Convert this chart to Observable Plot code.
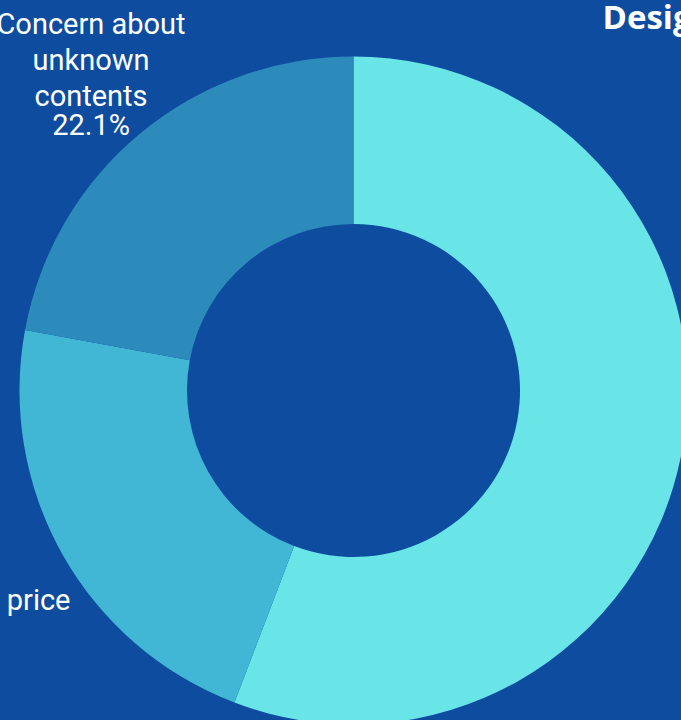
<!DOCTYPE html>
<html><head><meta charset="utf-8">
<script src="https://cdn.jsdelivr.net/npm/d3@7"></script>
<script src="https://cdn.jsdelivr.net/npm/@observablehq/plot@0.6"></script>
<style>
html,body{margin:0;padding:0;background:#0e4ca0;overflow:hidden}
#chart{position:relative;width:681px;height:720px;overflow:hidden}
#chart svg{display:block}
</style></head><body><div id="chart"></div>
<script>
// ---- data ----
const categories = ["Attractive design", "Unwilling to pay a higher price", "Concern about unknown contents"];
const shares = [55.8, 22.1, 22.1];
const sliceColors = ["#6ae5e7", "#41b6d5", "#2d8bbb"];
const labelLines = [["Attractive", "design"], ["Unwilling to pay a higher price"], ["Concern about", "unknown", "contents"]];
const title = "Design preferences";

// ---- layout ----
const W = 681, H = 720;
const cx = 353.5, cy = 390.5, rOuter = 334, rInner = 166.5, rLabel = 411;
const lineGap = 36, pctGap = 29;
const labelFont = "Roboto", labelSize = 29;
// label 1 sits beside the donut with its first line ending at a given right edge
const labelOverride = {1: {right: 70, y: 614.5}};

const ctx = document.createElement("canvas").getContext("2d");
ctx.font = `${labelSize}px ${labelFont}`;

const rows = categories.map((c, i) => ({category: c, share: shares[i]}));
const color = Plot.scale({color: {domain: categories, range: sliceColors}});
const pieData = d3.pie().sort(null).value(d => d.share)(rows);

// label lines
const textRows = [];
pieData.forEach((p, i) => {
  const a = (p.startAngle + p.endAngle) / 2;
  const lines = labelLines[i];
  let ax = cx + rLabel * Math.sin(a), ay = cy - rLabel * Math.cos(a);
  const o = labelOverride[i];
  if (o) { ax = o.right - ctx.measureText(lines[0]).width / 2; ay = o.y; }
  const total = lineGap * (lines.length - 1) + pctGap;
  const y0 = ay - total / 2;
  lines.forEach((t, j) => textRows.push({x: ax, y: y0 + j * lineGap, text: t}));
  textRows.push({x: ax, y: y0 + lineGap * (lines.length - 1) + pctGap, text: d3.format(".1f")(p.data.share) + "%"});
});

function donut(index, scales) {
  const sx = scales && scales.x ? scales.x : (v => v);
  const sy = scales && scales.y ? scales.y : (v => v);
  const g = d3.create("svg:g").attr("transform", `translate(${sx(cx)},${sy(cy)})`);
  const arc = d3.arc().innerRadius(rInner).outerRadius(rOuter);
  g.selectAll("path").data(pieData).join("path")
    .attr("d", arc)
    .attr("fill", d => color.apply(d.data.category));
  return g.node();
}

const chart = Plot.plot({
  width: W, height: H, margin: 0,
  x: {domain: [0, W], range: [0, W], axis: null},
  y: {domain: [0, H], range: [0, H], axis: null},
  style: {background: "#0e4ca0", overflow: "hidden"},
  marks: [
    donut,
    Plot.text(textRows, {x: "x", y: "y", text: "text", fill: "white", fontSize: labelSize, fontFamily: labelFont, textAnchor: "middle"}),
    Plot.text([title], {x: 602, y: 18, text: d => d, fill: "white", fontSize: 33, fontWeight: 700, fontFamily: "Open Sans", textAnchor: "start"})
  ]
});
document.getElementById("chart").appendChild(chart);
</script></body></html>
